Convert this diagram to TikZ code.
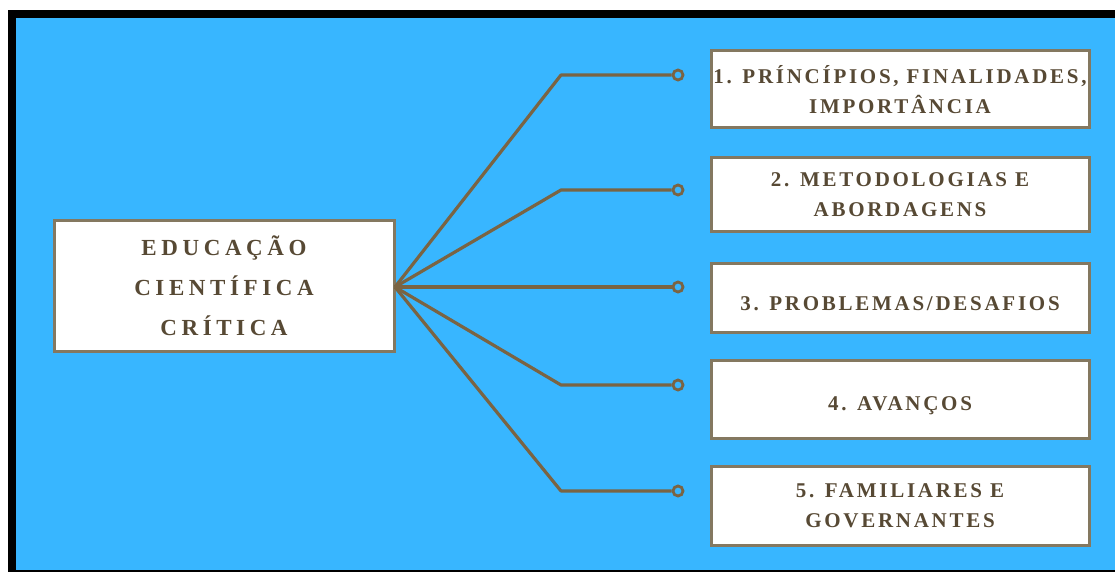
\documentclass[tikz,border=0pt]{standalone}
\usepackage{fontspec}
\setmainfont{Liberation Serif}
\newfontfamily\mainfnt{Liberation Serif}[LetterSpace=20]
\newfontfamily\boxfnt{Liberation Serif}[LetterSpace=13]
\definecolor{bgblue}{HTML}{38B6FF}
\definecolor{linebrown}{HTML}{7A6443}
\definecolor{boxedge}{HTML}{847860}
\definecolor{txt}{HTML}{574934}
\tikzset{
  mainbox/.style={draw=boxedge, line width=3pt, fill=white, text=txt, align=center,
    minimum width=340pt, minimum height=131pt, inner sep=0pt,
    font=\mainfnt\bfseries\fontsize{23}{40}\selectfont},
  itembox/.style={draw=boxedge, line width=3pt, fill=white, text=txt, align=center,
    minimum width=378pt, inner sep=0pt,
    font=\boxfnt\bfseries\fontsize{21}{30}\selectfont},
  endcirc/.style={circle, draw=linebrown, line width=2.8pt, minimum size=10pt, inner sep=0pt},
  conn/.style={draw=linebrown, line width=3.2pt, line join=round},
}
\begin{document}
\begin{tikzpicture}[x=1pt,y=-1pt]
\useasboundingbox (0,0) rectangle (1115,572);
\fill[white] (0,0) rectangle (1115,572);
\fill[black] (8,10) rectangle (1115,572);
\fill[bgblue] (16,18) rectangle (1115,570);

\node[mainbox] (main) at (224,286) {EDUCAÇÃO\\CIENTÍFICA\\CRÍTICA};

\node[itembox, minimum height=77pt] (b1) at (900,89.5) {1. PRÍNCÍPIOS, FINALIDADES,\\IMPORTÂNCIA};
\node[itembox, minimum height=73pt] (b2) at (900,194.5) {2. METODOLOGIAS E\\ABORDAGENS};
\node[itembox, minimum height=69pt, text height=26pt, text depth=0pt] (b3) at (900,297.5) {3. PROBLEMAS/DESAFIOS};
\node[itembox, minimum height=78pt, text height=22pt, text depth=0pt] (b4) at (900,399) {4. AVANÇOS};
\node[itembox, minimum height=79pt] (b5) at (900,505.5) {5. FAMILIARES E\\GOVERNANTES};

\node[endcirc] (c1) at (678,75) {};
\node[endcirc] (c2) at (678,190) {};
\node[endcirc] (c3) at (678,287) {};
\node[endcirc] (c4) at (678,385) {};
\node[endcirc] (c5) at (678,491) {};

\coordinate (k1) at (561,75);
\coordinate (k2) at (561,190);
\coordinate (k4) at (561,385);
\coordinate (k5) at (561,491);
\coordinate (hub) at (395,287);

\draw[conn] (hub) -- (k1) -- (c1.west);
\draw[conn] (hub) -- (k2) -- (c2.west);
\draw[conn] (hub) -- (c3.west);
\draw[conn] (hub) -- (k4) -- (c4.west);
\draw[conn] (hub) -- (k5) -- (c5.west);
\end{tikzpicture}
\end{document}
